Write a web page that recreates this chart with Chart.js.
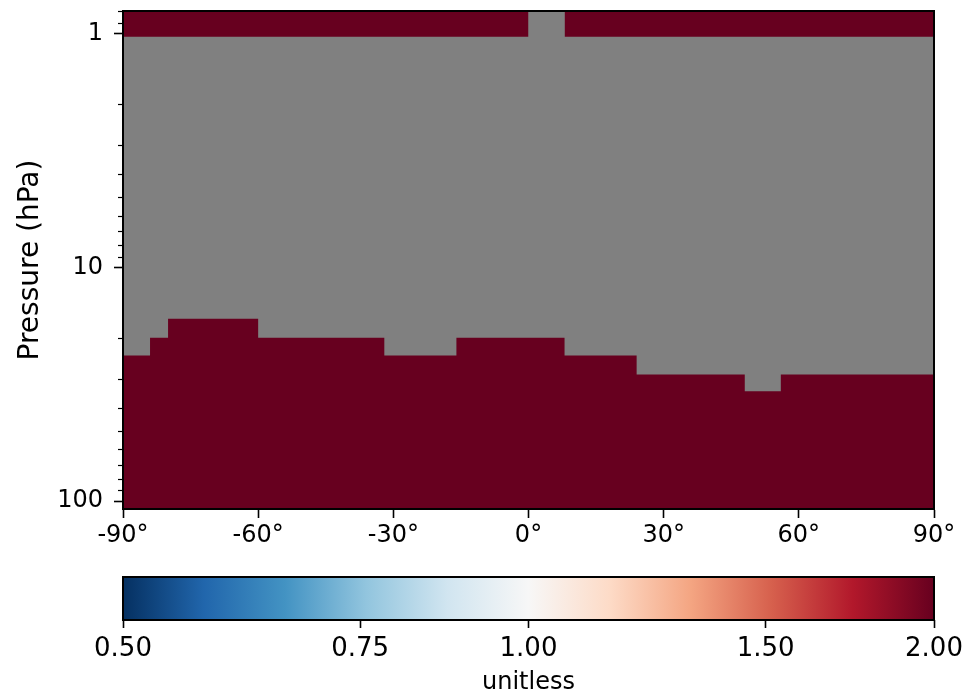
<!DOCTYPE html>
<html>
<head>
<meta charset="utf-8">
<script src="https://cdn.jsdelivr.net/npm/chart.js@4.4.1/dist/chart.umd.min.js"></script>
<style>
  html, body { margin: 0; padding: 0; background: #fff; }
  #wrap { position: relative; width: 974px; height: 697px; overflow: hidden; }
  #mainChart { position: absolute; left: 0; top: 0; }
  #cbChart { position: absolute; left: 0; top: 560px; }
</style>
</head>
<body>
<div id="wrap">
  <canvas id="mainChart" width="974" height="560"></canvas>
  <canvas id="cbChart" width="974" height="137"></canvas>
</div>
<script>
// latitude column edges (deg)
const latEdges = [-90, -84, -80, -60, -32, -16, 0, 8, 24, 48, 56, 90];
// pressure (hPa) where the lower block of valid cells starts, one per column
const lowerTopP = [23.8, 20.0, 16.6, 20.0, 23.8, 20.0, 20.0, 23.8, 28.7, 33.9, 28.7];
// top model row: 1 = value present, 0 = missing
const upperRowHasData = [1, 1, 1, 1, 1, 1, 0, 1, 1, 1, 1];
const upperRowBottomP = 1.03;
// every valid cell is at (or above) the top of the colour range
const cellValue = 2.0;

const pressureRange = [0.8, 108];
const yMajorTicks = [1, 10, 100];
const yMinorTicks = [0.8, 0.9, 2, 3, 4, 5, 6, 7, 8, 9, 20, 30, 40, 50, 60, 70, 80, 90];
const latTicks = [-90, -60, -30, 0, 30, 60, 90];

const cbRange = [0.5, 2.0];
const cbTicks = [0.5, 0.75, 1.0, 1.5, 2.0];
const rdbuR = ['#053061', '#2166ac', '#4393c3', '#92c5de', '#d1e5f0', '#f7f7f7',
               '#fddbc7', '#f4a582', '#d6604d', '#b2182b', '#67001f'];
const missingColor = '#808080';

Chart.defaults.font.family = 'DejaVu Sans';
Chart.defaults.color = '#000';

function hexToRgb(h) {
    const n = parseInt(h.slice(1), 16);
    return [(n >> 16) & 255, (n >> 8) & 255, n & 255];
}

// log-normalised lookup into RdBu_r
function colorFor(v) {
    let t = Math.log(v / cbRange[0]) / Math.log(cbRange[1] / cbRange[0]);
    t = Math.min(1, Math.max(0, t));
    const pos = t * (rdbuR.length - 1);
    const i = Math.min(rdbuR.length - 2, Math.floor(pos));
    const f = pos - i;
    const a = hexToRgb(rdbuR[i]), b = hexToRgb(rdbuR[i + 1]);
    const c = a.map((ai, k) => Math.round(ai + (b[k] - ai) * f));
    return `rgb(${c[0]}, ${c[1]}, ${c[2]})`;
}

// build the two filled step outlines
const lowerPts = latEdges.slice(0, -1).map((x, i) => ({ x: x, y: lowerTopP[i] }));
lowerPts.push({ x: latEdges[latEdges.length - 1], y: lowerTopP[lowerTopP.length - 1] });

const upperPts = [];
upperRowHasData.forEach((has, i) => {
    if (has) {
        upperPts.push({ x: latEdges[i], y: upperRowBottomP }, { x: latEdges[i + 1], y: upperRowBottomP });
    } else {
        upperPts.push({ x: (latEdges[i] + latEdges[i + 1]) / 2, y: null });
    }
});

const cellColor = colorFor(cellValue);

// no extra room for half-labels: the layout padding places the plot box
function noEdgePadding(s) {
    s.paddingTop = 0;
    s.paddingBottom = 0;
    s.paddingLeft = 0;
    s.paddingRight = 0;
}

const plotBackground = {
    id: 'plotBackground',
    beforeDraw(chart) {
        const { ctx, chartArea: a } = chart;
        ctx.save();
        ctx.fillStyle = missingColor;
        ctx.fillRect(a.left, a.top, a.right - a.left, a.bottom - a.top);
        ctx.restore();
    }
};

const frame = {
    id: 'frame',
    afterDraw(chart) {
        const { ctx, chartArea: a } = chart;
        ctx.save();
        ctx.strokeStyle = '#000';
        ctx.lineWidth = 2;
        ctx.strokeRect(a.left, a.top, a.right - a.left, a.bottom - a.top);
        ctx.restore();
    }
};

const minorTicks = {
    id: 'minorTicks',
    afterDraw(chart) {
        const { ctx, chartArea: a } = chart;
        const y = chart.scales.y;
        ctx.save();
        ctx.strokeStyle = '#000';
        ctx.lineWidth = 1.2;
        yMinorTicks.forEach(v => {
            const py = Math.round(y.getPixelForValue(v)) + 0.5;
            ctx.beginPath();
            ctx.moveTo(a.left - 5, py);
            ctx.lineTo(a.left, py);
            ctx.stroke();
        });
        ctx.restore();
    }
};

new Chart(document.getElementById('mainChart'), {
    type: 'line',
    data: {
        datasets: [
            {
                label: 'lower',
                data: lowerPts,
                stepped: true,
                fill: 'start',
                backgroundColor: cellColor,
                borderColor: 'rgba(0,0,0,0)',
                borderWidth: 0,
                pointRadius: 0
            },
            {
                label: 'upper',
                data: upperPts,
                spanGaps: false,
                fill: 'end',
                backgroundColor: cellColor,
                borderColor: 'rgba(0,0,0,0)',
                borderWidth: 0,
                pointRadius: 0
            }
        ]
    },
    options: {
        responsive: false,
        animation: false,
        layout: { padding: { top: 11, right: 40, bottom: 0, left: 0 } },
        plugins: {
            legend: { display: false },
            tooltip: { enabled: false }
        },
        scales: {
            x: {
                type: 'linear',
                min: latTicks[0],
                max: latTicks[latTicks.length - 1],
                afterBuildTicks: s => { s.ticks = latTicks.map(v => ({ value: v })); },
                ticks: {
                    callback: v => v + '°',
                    font: { size: 24 },
                    padding: 3,
                    maxRotation: 0,
                    autoSkip: false
                },
                grid: { drawOnChartArea: false, tickLength: 9, tickWidth: 1.6, tickColor: '#000' },
                border: { color: '#000', width: 2 },
                afterFit: s => { s.height = 51; noEdgePadding(s); }
            },
            y: {
                type: 'logarithmic',
                reverse: true,
                min: pressureRange[0],
                max: pressureRange[1],
                afterBuildTicks: s => { s.ticks = yMajorTicks.map(v => ({ value: v })); },
                ticks: {
                    callback: v => String(v),
                    font: { size: 24 },
                    padding: 11,
                    autoSkip: false
                },
                grid: { drawOnChartArea: false, tickLength: 9, tickWidth: 1.6, tickColor: '#000' },
                border: { color: '#000', width: 2 },
                title: {
                    display: true,
                    text: 'Pressure (hPa)',
                    font: { size: 28 },
                    padding: { top: 14, bottom: 0 }
                },
                afterFit: s => { s.width = 123; noEdgePadding(s); }
            }
        }
    },
    plugins: [plotBackground, minorTicks, frame]
});

// colour bar
const gradientBar = {
    id: 'gradientBar',
    beforeDraw(chart) {
        const { ctx, chartArea: a } = chart;
        const x = chart.scales.x;
        const g = ctx.createLinearGradient(a.left, 0, a.right, 0);
        rdbuR.forEach((c, i) => {
            const v = cbRange[0] * Math.pow(cbRange[1] / cbRange[0], i / (rdbuR.length - 1));
            const off = (x.getPixelForValue(v) - a.left) / (a.right - a.left);
            g.addColorStop(Math.min(1, Math.max(0, off)), c);
        });
        ctx.save();
        ctx.fillStyle = g;
        ctx.fillRect(a.left, a.top, a.right - a.left, a.bottom - a.top);
        ctx.restore();
    }
};

new Chart(document.getElementById('cbChart'), {
    type: 'line',
    data: { datasets: [] },
    options: {
        responsive: false,
        animation: false,
        layout: { padding: { top: 17, right: 40, bottom: 0, left: 123 } },
        plugins: {
            legend: { display: false },
            tooltip: { enabled: false }
        },
        scales: {
            x: {
                type: 'logarithmic',
                min: cbRange[0],
                max: cbRange[1],
                afterBuildTicks: s => { s.ticks = cbTicks.map(v => ({ value: v })); },
                ticks: {
                    callback: v => Number(v).toFixed(2),
                    font: { size: 26 },
                    padding: 6,
                    maxRotation: 0,
                    autoSkip: false
                },
                grid: { drawOnChartArea: false, tickLength: 8, tickWidth: 1.6, tickColor: '#000' },
                border: { display: false },
                title: {
                    display: true,
                    text: 'unitless',
                    font: { size: 24 },
                    padding: { top: 3, bottom: 0 }
                },
                afterFit: s => { s.height = 77; noEdgePadding(s); }
            },
            y: { display: false, min: 0, max: 1 }
        }
    },
    plugins: [gradientBar, frame]
});
</script>
</body>
</html>
